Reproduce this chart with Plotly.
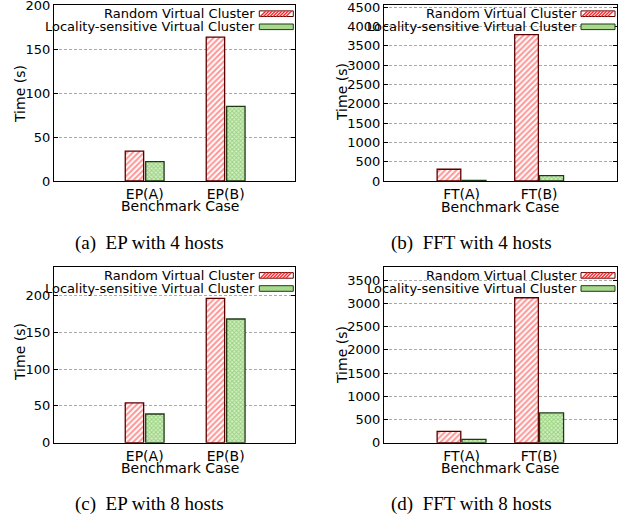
import plotly.graph_objects as go

# ---------------- data ----------------
cases_ep = ["EP(A)", "EP(B)"]
cases_ft = ["FT(A)", "FT(B)"]
series_names = ["Random Virtual Cluster", "Locality-sensitive Virtual Cluster"]

ep4_random = [34, 164]
ep4_local = [22, 85]
ft4_random = [305, 3790]
ft4_local = [15, 140]
ep8_random = [54, 196]
ep8_local = [39, 168]
ft8_random = [245, 3120]
ft8_local = [70, 640]

captions = ["(a)\u00a0 EP with 4 hosts", "(b)\u00a0 FFT with 4 hosts",
            "(c)\u00a0 EP with 8 hosts", "(d)\u00a0 FFT with 8 hosts"]
x_title = "Benchmark Case"
y_title = "Time (s)"

# ---------------- layout helpers ----------------
W, H = 629, 518
def fx(px):
    return px / W
def fy(py):
    return 1 - py / H

FONT = "DejaVu Sans"
RED_FG = "#ff2a2a"
RED_LINE = "#5a0000"
GREEN_FG = "#5cb83a"
GREEN_BG = "#d4eec4"
GREEN_LINE = "#1e3a14"

panels = [
    dict(cats=cases_ep, r=ep4_random, l=ep4_local, xpx=(54, 295), ypx=(5, 181),
         yr=[0, 200.5], dt=50, xr=[-0.12, 2.856], roff=-0.24, rw=0.227, goff=0.0123, gw=0.227,
         cap=captions[0], capy=243, ytx=20, yty=94, xty=206),
    dict(cats=cases_ft, r=ft4_random, l=ft4_local, xpx=(384, 616.7), ypx=(5, 181),
         yr=[0, 4560], dt=500, xr=[0, 3], roff=-0.315, rw=0.305, goff=0.005, gw=0.31,
         cap=captions[1], capy=243, ytx=342, yty=92, xty=206.5),
    dict(cats=cases_ep, r=ep8_random, l=ep8_local, xpx=(54, 295), ypx=(266.7, 442.7),
         yr=[0, 239], dt=50, xr=[-0.12, 2.856], roff=-0.24, rw=0.227, goff=0.0123, gw=0.227,
         cap=captions[2], capy=503.5, ytx=20, yty=352, xty=467.5),
    dict(cats=cases_ft, r=ft8_random, l=ft8_local, xpx=(384, 616.7), ypx=(266.7, 442.7),
         yr=[0, 3788], dt=500, xr=[0, 3], roff=-0.315, rw=0.305, goff=0.005, gw=0.31,
         cap=captions[3], capy=503.5, ytx=342, yty=355, xty=467.5),
]

fig = go.Figure()
layout = dict(
    width=W, height=H, margin=dict(l=0, r=0, t=0, b=0, autoexpand=False),
    paper_bgcolor="white", plot_bgcolor="white",
    showlegend=False, barmode="overlay",
    font=dict(family=FONT, size=13, color="black"),
)
annotations = []
shapes = []

for i, p in enumerate(panels):
    n = "" if i == 0 else str(i + 1)
    xa, ya = "x" + n, "y" + n
    xpos = list(range(1, len(p["cats"]) + 1))
    fig.add_trace(go.Bar(
        x=xpos, y=p["r"], xaxis=xa, yaxis=ya, name=series_names[0],
        offset=p["roff"], width=p["rw"],
        marker=dict(color="white",
                    pattern=dict(shape="/", fgcolor=RED_FG, bgcolor="white", size=4, solidity=0.5),
                    line=dict(color=RED_LINE, width=1.3)),
    ))
    fig.add_trace(go.Bar(
        x=xpos, y=p["l"], xaxis=xa, yaxis=ya, name=series_names[1],
        offset=p["goff"], width=p["gw"],
        marker=dict(color=GREEN_BG,
                    pattern=dict(shape="x", fgcolor=GREEN_FG, bgcolor=GREEN_BG, size=3, solidity=0.55),
                    line=dict(color=GREEN_LINE, width=1.3)),
    ))
    x0, x1 = p["xpx"]
    y0, y1 = p["ypx"]
    layout["xaxis" + n] = dict(
        domain=[fx(x0), fx(x1)], anchor=ya, range=p["xr"], automargin=False,
        tickvals=xpos, ticktext=p["cats"], ticks="", ticklabeloverflow="allow",
        showline=True, mirror=True, linecolor="black", linewidth=1.3,
        showgrid=False, zeroline=False, tickfont=dict(size=14, family=FONT),
    )
    layout["yaxis" + n] = dict(
        domain=[fy(y1), fy(y0)], anchor=xa, range=p["yr"], dtick=p["dt"], tick0=0,
        automargin=False, ticklabeloverflow="allow",
        ticks="inside", ticklen=4, tickcolor="black", tickwidth=1,
        showline=True, mirror="ticks", linecolor="black", linewidth=1.3,
        showgrid=True, gridcolor="#aaaaaa", griddash="3px,2px", gridwidth=1,
        zeroline=False, tickfont=dict(size=13, family=FONT),
    )
    # axis titles
    annotations.append(dict(text=y_title, x=fx(p["ytx"]), y=fy(p["yty"]), xref="paper", yref="paper",
                            textangle=-90, showarrow=False, xanchor="center", yanchor="middle",
                            font=dict(size=14, family=FONT)))
    annotations.append(dict(text=x_title, x=fx((x0 + x1) / 2 + (5 if i % 2 == 0 else 0)), y=fy(p["xty"]),
                            xref="paper", yref="paper", showarrow=False,
                            xanchor="center", yanchor="middle", font=dict(size=14, family=FONT)))
    # caption
    annotations.append(dict(text=p["cap"], x=fx(149 if i % 2 == 0 else 471), y=fy(p["capy"]),
                            xref="paper", yref="paper", showarrow=False,
                            xanchor="center", yanchor="middle",
                            font=dict(size=19, family="Liberation Serif")))
    # legend (text right, swatch at right)
    rows = [y0 + 8.7, y0 + 21.8]
    for k, ry in enumerate(rows):
        annotations.append(dict(text=series_names[k], x=fx(x1 - 38), y=fy(ry), xref="paper", yref="paper",
                                showarrow=False, xanchor="right", yanchor="middle",
                                font=dict(size=13, family=FONT)))
        bx0, bx1 = x1 - 35.7, x1 - 1.7
        by0, by1 = ry - 2.8, ry + 2.8
        if k == 0:
            shapes.append(dict(type="rect", xref="paper", yref="paper",
                               x0=fx(bx0), x1=fx(bx1), y0=fy(by1), y1=fy(by0),
                               fillcolor="white", line=dict(color=RED_LINE, width=1)))
            hx = bx0 + 1
            h = by1 - by0
            while hx + h <= bx1 - 0.5:
                shapes.append(dict(type="line", xref="paper", yref="paper",
                                   x0=fx(hx), y0=fy(by1), x1=fx(hx + h), y1=fy(by0),
                                   line=dict(color=RED_FG, width=1.4)))
                hx += 3.2
        else:
            shapes.append(dict(type="rect", xref="paper", yref="paper",
                               x0=fx(bx0), x1=fx(bx1), y0=fy(by1), y1=fy(by0),
                               fillcolor="#a8d88c", line=dict(color=GREEN_LINE, width=1)))

layout["annotations"] = annotations
layout["shapes"] = shapes
fig.update_layout(**layout)
fig.write_html(
    "out.html",
    config={"displayModeBar": False},
    post_script="document.body.style.margin='0px';document.body.style.padding='0px';"
                "document.body.style.overflow='hidden';",
)
